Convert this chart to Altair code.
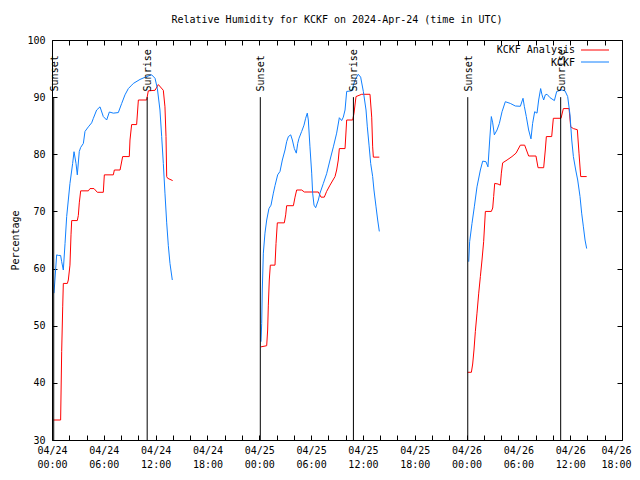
import altair as alt
import pandas as pd

MONO = "DejaVu Sans Mono"
TITLE = "Relative Humidity for KCKF on 2024-Apr-24 (time in UTC)"

series_names = ["KCKF Analysis", "KCKF"]
series_colors = ["#ff0000", "#1080ff"]

# hours since 04/24 00:00 UTC
analysis_hours = [
    0.15, 1.0, 1.12, 1.24, 1.31, 1.78, 1.89, 2.08, 2.2, 2.28, 2.93, 3.05, 3.16, 3.32, 4.21, 4.4, 4.86,
    5.25, 5.94, 6.06, 7.10, 7.22, 7.88, 8.18, 8.95, 9.03, 9.22, 9.8, 10.0, 10.96, 11.15, 11.93, 12.31,
    12.89, 13.08, 13.2, 13.28, 13.39, 13.97,
    24.2, 24.86, 24.97, 25.05, 25.16, 25.28, 25.82, 25.94, 26.09, 26.9, 27.06, 27.17, 27.95, 28.14,
    28.33, 28.91, 29.22, 30.84, 31.15, 31.53, 31.8, 32.19, 32.77, 32.96, 33.15, 33.27, 33.93, 34.12,
    34.82, 34.97, 35.2, 35.86, 36.82, 37.02, 37.13, 37.21, 37.9,
    48.13, 48.56, 48.71, 48.86, 49.02, 49.21, 49.41, 49.6, 49.79, 49.98, 50.18, 50.87, 51.03, 51.14,
    51.26, 51.64, 51.91, 52.03, 52.18, 52.69, 53.26, 53.73, 54.23, 54.73, 55.19, 56.04, 56.28, 56.93,
    57.12, 57.24, 57.86, 58.05, 58.94, 59.21, 59.87, 60.06, 60.37, 60.83, 61.02, 61.22, 61.91,
]
analysis_values = [
    33.5, 33.5, 45.5, 53.3, 57.4, 57.4, 58.0, 60.6, 65.9, 68.4, 68.4, 69.3, 71.5, 73.6, 73.6, 74.0, 74.0,
    73.35, 73.35, 76.4, 76.4, 77.25, 77.25, 79.6, 79.6, 82.5, 85.2, 85.2, 89.5, 89.5, 91.1, 91.2, 92.2,
    91.2, 88.3, 83.1, 76.1, 75.8, 75.4,
    46.3, 46.5, 49.25, 53.6, 58.0, 60.6, 60.6, 64.4, 68.0, 68.0, 69.4, 71.0, 71.0, 72.5,
    73.75, 73.75, 73.4, 73.4, 72.5, 72.5, 73.5, 74.6, 76.1, 77.25, 79.0, 81.0, 81.0, 86.0,
    86.0, 87.2, 90.1, 90.5, 90.5, 86.5, 81.3, 79.5, 79.5,
    41.85, 41.85, 43.3, 45.75, 49.0, 52.2, 55.7, 58.6, 61.5, 64.7, 70.0, 70.0, 70.6, 72.6,
    74.9, 74.8, 74.6, 76.7, 78.5, 79.0, 79.6, 80.2, 81.6, 81.6, 79.7, 79.7, 77.65, 77.65,
    80.75, 83.1, 83.1, 86.3, 86.3, 88.0, 88.0, 84.8, 84.5, 84.3, 80.2, 76.1, 76.1,
]

obs_hours = [
    0.23, 0.54, 0.73, 1.0, 1.12, 1.31, 1.51, 1.70, 1.89, 2.08, 2.39, 2.55, 2.78, 2.93, 3.16, 3.32,
    3.63, 3.82, 4.21, 4.59, 4.79, 5.17, 5.56, 5.94, 6.33, 6.64, 7.10, 7.68, 8.07, 8.45, 8.84, 9.23,
    9.42, 10.19, 10.96, 11.54, 11.93, 12.2, 12.5, 12.7, 12.89, 13.08, 13.28, 13.47, 13.66, 13.93,
    24.2, 24.28, 24.35, 24.47, 24.66, 24.86, 25.12, 25.36, 25.63, 25.82, 26.13, 26.4, 26.67, 26.98,
    27.17, 27.37, 27.64, 27.83, 28.06, 28.29, 28.45, 28.6, 28.91, 29.18, 29.37, 29.56, 29.68, 29.87,
    30.07, 30.18, 30.34, 30.53, 30.84, 31.03, 31.42, 31.8, 32.19, 32.58, 32.96, 33.27, 33.54, 33.73,
    33.93, 34.12, 34.7, 35.09, 35.47, 35.74, 36.05, 36.36, 36.51, 36.71, 36.9, 37.13, 37.28, 37.52,
    37.71, 37.9,
    48.25, 48.36, 48.63, 48.9, 49.21, 49.6, 49.87, 50.25, 50.48, 50.68, 50.87, 51.03, 51.22, 51.53,
    51.8, 52.11, 52.49, 53.07, 53.65, 54.23, 54.54, 54.69, 54.92, 55.19, 55.46, 55.65, 55.89, 56.16,
    56.35, 56.58, 56.74, 56.93, 57.12, 57.32, 57.67, 58.17, 58.44, 59.02, 59.4, 59.71, 59.98, 60.18,
    60.37, 60.64, 60.87, 61.14, 61.33, 61.53, 61.72, 61.91,
]
obs_values = [
    55.7, 62.4, 62.3, 62.3, 61.2, 59.75, 64.4, 69.1, 72.0, 74.9, 78.4, 80.45, 78.4, 76.4, 80.5, 81.2,
    81.9, 84.0, 84.8, 85.5, 86.3, 87.75, 88.3, 86.6, 86.0, 87.4, 87.2, 87.3, 88.9, 90.4, 91.5, 92.1,
    92.4, 93.1, 93.6, 93.9, 93.3, 91.5, 87.75, 83.1, 78.4, 73.2, 68.0, 64.0, 60.9, 58.0,
    47.2, 50.4, 56.25, 62.7, 66.2, 68.5, 70.5, 71.1, 73.2, 74.5, 76.4, 77.0, 79.0, 80.75,
    82.2, 83.1, 83.4, 82.5, 81.0, 80.2, 81.9, 82.8, 84.0, 85.1, 86.3, 87.2, 86.0, 81.3,
    76.7, 73.2, 71.1, 70.65, 72.0, 73.2, 74.9, 76.6, 79.0, 81.3, 83.7, 86.4, 85.9, 86.5,
    87.75, 91.0, 91.1, 93.0, 94.0, 93.5, 91.0, 87.75, 84.8, 81.6, 78.4, 76.1, 73.75, 70.8,
    68.5, 66.5,
    61.2, 64.7, 67.9, 70.8, 74.3, 77.25, 78.8, 78.7, 77.8, 82.5, 86.6, 85.5, 83.4, 84.25,
    85.4, 87.45, 89.2, 88.9, 88.45, 88.4, 89.8, 88.4, 86.6, 84.25, 82.7, 85.4, 87.45, 87.2,
    89.5, 91.5, 90.4, 89.5, 90.4, 90.5, 89.9, 89.4, 91.0, 91.25, 91.1, 90.1, 86.9, 82.5,
    79.6, 77.25, 75.5, 72.6, 69.7, 67.3, 65.0, 63.5,
]

event_hours = [0.2, 11.02, 24.12, 34.9, 48.14, 58.9]
event_labels = ["Sunset", "Sunrise", "Sunset", "Sunrise", "Sunset", "Sunrise"]
event_bottom = 30
event_top = 90
event_label_at = 91

x_domain = [0, 66]
x_tick_hours = list(range(0, 67, 2))
x_label_hours = [0, 6, 12, 18, 24, 30, 36, 42, 48, 54, 60, 66]
x_label_dates = ["04/24"] * 4 + ["04/25"] * 4 + ["04/26"] * 4
x_label_times = ["00:00", "06:00", "12:00", "18:00"] * 3
y_domain = [30, 100]
y_ticks = [30, 40, 50, 60, 70, 80, 90, 100]

# ---- build tables ----
rows = []
for name, hs, vs in [(series_names[0], analysis_hours, analysis_values),
                     (series_names[1], obs_hours, obs_values)]:
    for h, v in zip(hs, vs):
        rows.append({"series": name, "hour": h, "value": v, "day": int(h // 24)})
df = pd.DataFrame(rows)
events = pd.DataFrame({"hour": event_hours, "label": event_labels})

label_expr = ""
for h, d, t in zip(x_label_hours, x_label_dates, x_label_times):
    label_expr += f"datum.value == {h} ? ['{d}', '{t}'] : "
label_expr += "''"
last_label = x_label_hours[-1]

xscale = alt.Scale(domain=x_domain, nice=False, zero=False)
yscale = alt.Scale(domain=y_domain, nice=False, zero=False)

x_bottom = alt.Axis(
    orient="bottom", values=x_tick_hours, labelExpr=label_expr, labelOverlap=False,
    labelFlush=False, labelLineHeight=14, labelBaseline="top", labelPadding=5,
    labelAlign={"condition": {"test": f"datum.value == {last_label}", "value": "right"}, "value": "center"},
    labelOffset={"condition": {"test": f"datum.value == {last_label}", "value": 9}, "value": 0},
    tickSize=5, offset=-5, title=None)
y_left = alt.Axis(orient="left", values=y_ticks, labelPadding=7, tickSize=5, offset=-5,
                  title="Percentage", titlePadding=6)
x_top = alt.Axis(orient="top", values=x_tick_hours, labels=False, tickSize=5, offset=-5, title=None)
y_right = alt.Axis(orient="right", values=y_ticks, labels=False, tickSize=5, offset=-5, title=None)

lines = alt.Chart(df).mark_line(strokeWidth=1, interpolate="linear").encode(
    x=alt.X("hour:Q", scale=xscale, axis=x_bottom),
    y=alt.Y("value:Q", scale=yscale, axis=y_left),
    color=alt.Color("series:N", scale=alt.Scale(domain=series_names, range=series_colors), legend=None),
    detail="day:N",
)

mirror = alt.Chart(df).mark_point(opacity=0).encode(
    x=alt.X("hour:Q", scale=xscale, axis=x_top),
    y=alt.Y("value:Q", scale=yscale, axis=y_right),
)

rules = alt.Chart(events).mark_rule(color="black", strokeWidth=1).encode(
    x=alt.X("hour:Q", scale=xscale, axis=None),
    y=alt.YDatum(event_bottom, axis=None),
    y2=alt.datum(event_top),
)
rule_text = alt.Chart(events).mark_text(angle=270, align="left", baseline="middle", font=MONO,
                                        fontSize=10, color="black", dy=1).encode(
    x=alt.X("hour:Q", scale=xscale, axis=None),
    y=alt.YDatum(event_label_at, axis=None),
    text="label:N",
)

legend_layers = []
for i, (name, col) in enumerate(zip(series_names, series_colors)):
    ldf = pd.DataFrame({"series": [name]})
    legend_layers.append(
        alt.Chart(ldf).mark_text(align="right", baseline="middle", font=MONO, fontSize=10, color="black")
        .encode(x=alt.value(523), y=alt.value(10 + 12.5 * i), text="series:N"))
    legend_layers.append(
        alt.Chart(ldf).mark_rule(color=col, strokeWidth=1)
        .encode(x=alt.value(529), x2=alt.value(557), y=alt.value(10 + 12 * i)))

chart = alt.layer(lines, mirror, rules, rule_text, *legend_layers).resolve_axis(
    x="independent", y="independent"
).properties(
    width=570, height=400,
    title=alt.TitleParams(TITLE, font=MONO, fontSize=10, fontWeight="normal", color="black",
                          anchor="middle", offset=10),
    autosize=alt.AutoSizeParams(type="none"),
    padding={"left": 44, "top": 32, "right": 10, "bottom": 36},
).configure_view(stroke="black", strokeWidth=1).configure_axis(
    labelFont=MONO, labelFontSize=10, labelColor="black", titleFont=MONO, titleFontSize=10,
    titleFontWeight="normal", titleColor="black", tickColor="black", grid=False, domain=False,
)

chart.save("out.html", embed_options={"renderer": "svg", "actions": False})
